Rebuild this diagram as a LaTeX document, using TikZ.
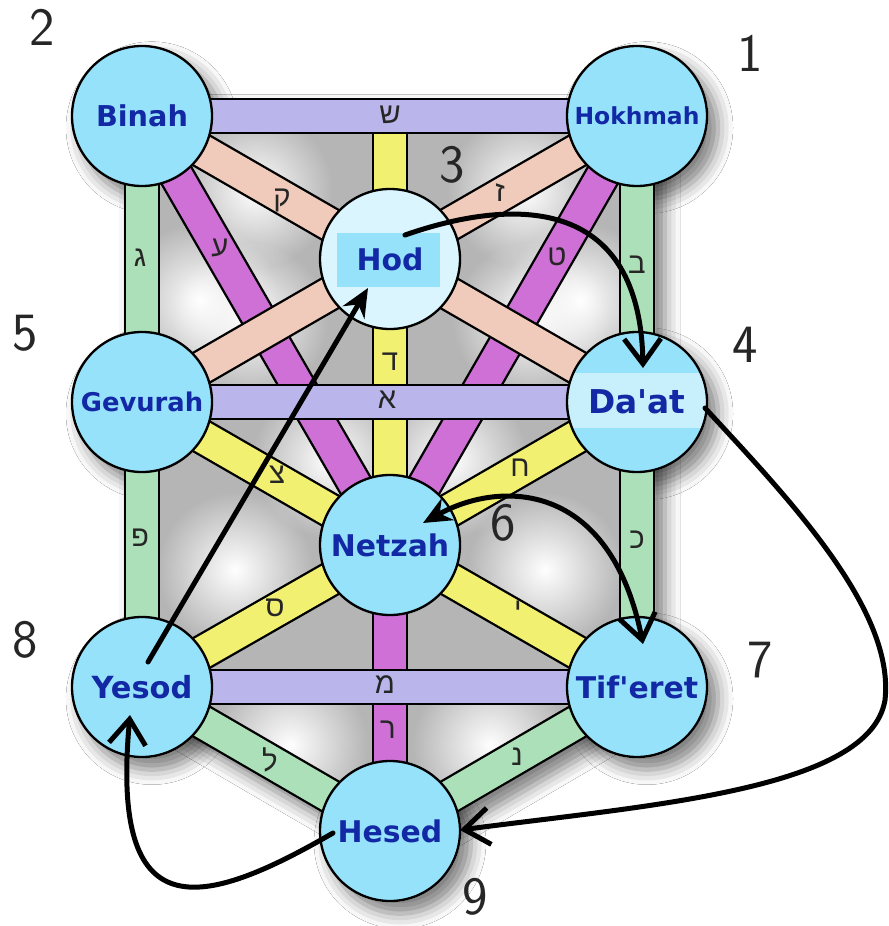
\documentclass[tikz,border=0pt]{standalone}
\usepackage{fontspec}
\usetikzlibrary{arrows.meta,shadows.blur,fadings}
\newfontfamily\lblfont{DejaVu Sans}
\newfontfamily\hebfont[Script=Hebrew]{Liberation Sans}
\definecolor{lav}{RGB}{186,182,236}
\definecolor{pinkb}{RGB}{240,202,186}
\definecolor{purp}{RGB}{206,112,214}
\definecolor{yel}{RGB}{242,240,112}
\definecolor{grn}{RGB}{172,224,184}
\definecolor{sef}{RGB}{150,226,250}
\definecolor{sefpale}{RGB}{218,245,253}
\definecolor{dapale}{RGB}{200,240,252}
\definecolor{txtb}{RGB}{18,40,165}
\tikzfading[name=blobfade, inner color=transparent!0, outer color=transparent!100]
\tikzset{
 band/.style={draw=black, line width=0.07cm, double=#1, double distance=0.95cm},
 sefira/.style={circle, draw=black, line width=0.07cm, fill=sef, minimum size=4.2cm, inner sep=0pt, text=txtb},
 heb/.style={font=\hebfont\fontsize{25}{26}\selectfont, inner sep=0pt, text=black!85},
 num/.style={font=\sffamily\fontsize{46}{48}\selectfont, inner sep=0pt, text=black!85},
 arr/.style={draw=black, line width=0.15cm, line cap=round},
 shad/.style={blur shadow={shadow xshift=0.3cm, shadow yshift=-0.35cm, shadow blur radius=0.45cm, shadow opacity=50}},
}
\begin{document}
\begin{tikzpicture}[x=0.03cm,y=-0.03cm]
\useasboundingbox (0,0) rectangle (888,926);
\fill[white] (0,0) rectangle (888,926);
% centres
\coordinate (cBi) at (142,116);
\coordinate (cHo) at (637,116);
\coordinate (cTop) at (390,116);
\coordinate (cHd) at (390,259);
\coordinate (cGe) at (142,402);
\coordinate (cDa) at (637,402);
\coordinate (cNe) at (390,545);
\coordinate (cYe) at (142,687);
\coordinate (cTi) at (637,687);
\coordinate (cHe) at (390,831);
% shadows
\fill[white, shad] (124,98) -- (655,98) -- (655,697) -- (390,852) -- (124,697) -- cycle;
\foreach \c in {cBi,cHo,cHd,cGe,cDa,cNe,cYe,cTi,cHe}
  \fill[white, shad] (\c) circle (71);
% grey ground
\begin{scope}
\clip (cBi) -- (cHo) -- (cTi) -- (cHe) -- (cYe) -- cycle;
\fill[gray!58] (0,0) rectangle (888,926);
\foreach \p in {(250,320),(530,320),(235,570),(545,570),(290,745),(490,745),(255,190),(525,190),(330,460),(450,460),(200,300),(580,300)}
  \fill[white, path fading=blobfade] \p circle (78);
\end{scope}
% bands
\draw[band=purp] (cBi) -- (cNe);
\draw[band=purp] (cHo) -- (cNe);
\draw[band=pinkb] (cBi) -- (cDa);
\draw[band=pinkb] (cHo) -- (cGe);
\draw[band=yel] (cTop) -- (cNe);
\draw[band=purp] (cNe) -- (cHe);
\draw[band=grn] (cBi) -- (cYe);
\draw[band=grn] (cHo) -- (cTi);
\draw[band=lav] (cBi) -- (cHo);
\draw[band=lav] (cGe) -- (cDa);
\draw[band=lav] (cYe) -- (cTi);
\draw[band=yel] (cGe) -- (cNe);
\draw[band=yel] (cDa) -- (cNe);
\draw[band=yel] (cYe) -- (cNe);
\draw[band=yel] (cTi) -- (cNe);
\draw[band=grn] (cYe) -- (cHe);
\draw[band=grn] (cTi) -- (cHe);
% sefirot
\node[sefira, font=\lblfont\bfseries\fontsize{24.5}{26}\selectfont] (bin) at (cBi) {Binah};
\node[sefira, font=\lblfont\bfseries\fontsize{20}{22}\selectfont] (hok) at (cHo) {Hokhmah};
\node[sefira, fill=sefpale, font=\lblfont\bfseries\fontsize{25.5}{27}\selectfont,
  path picture={\fill[sef] ([shift={(-1.59cm,0.78cm)}]path picture bounding box.center) rectangle ([shift={(1.5cm,-0.84cm)}]path picture bounding box.center);}] (hod) at (cHd) {Hod};
\node[sefira, font=\lblfont\bfseries\fontsize{22}{24}\selectfont] (gev) at (cGe) {Gevurah};
\node[sefira, font=\lblfont\bfseries\fontsize{28}{30}\selectfont,
  path picture={\fill[dapale] ([yshift=0.86cm]path picture bounding box.west) rectangle ([yshift=-0.78cm]path picture bounding box.east);}] (dat) at (cDa) {Da\textquotesingle at};
\node[sefira, font=\lblfont\bfseries\fontsize{25.5}{27}\selectfont] (net) at (cNe) {Netzah};
\node[sefira, font=\lblfont\bfseries\fontsize{26}{28}\selectfont] (yes) at (cYe) {Yesod};
\node[sefira, font=\lblfont\bfseries\fontsize{25.5}{27}\selectfont] (tif) at (cTi) {Tif\textquotesingle eret};
\node[sefira, font=\lblfont\bfseries\fontsize{25.5}{27}\selectfont] (hes) at (cHe) {Hesed};
% letters
\node[heb] (lShin) at (390,115) {ש};
\node[heb] (lQof) at (282,200) {ק};
\node[heb] (lZayin) at (500,193) {ז};
\node[heb] (lGimel) at (140,258) {ג};
\node[heb] (lAyin) at (220,248) {ע};
\node[heb] (lTet) at (557,257) {ט};
\node[heb] (lBet) at (637,265) {ב};
\node[heb] (lDalet) at (390,362) {ד};
\node[heb] (lAlef) at (387,400) {א};
\node[heb] (lTsadi) at (277,475) {צ};
\node[heb] (lHet) at (520,468) {ח};
\node[heb] (lPe) at (140,538) {פ};
\node[heb] (lKaf) at (637,540) {כ};
\node[heb] (lSamekh) at (275,608) {ס};
\node[heb] (lYod) at (518,610) {י};
\node[heb] (lMem) at (385,685) {מ};
\node[heb] (lResh) at (388,730) {ר};
\node[heb] (lLamed) at (270,760) {ל};
\node[heb] (lNun) at (517,757) {נ};
% numbers
\node[num] (n1) at (750,53) {1};
\node[num] (n2) at (42,27) {2};
\node[num] (n3) at (452,165) {3};
\node[num] (n4) at (745,345) {4};
\node[num] (n5) at (25,333) {5};
\node[num] (n6) at (503,523) {6};
\node[num] (n7) at (760,660) {7};
\node[num] (n8) at (25,640) {8};
\node[num] (n9) at (475,897) {9};
% arrows
\draw[arr, -{Straight Barb[length=0.75cm,width=1.1cm]}] ([shift={(15,-24)}]hod.center) .. controls (520,195) and (640,200) .. ([shift={(6,-34)}]dat.center);
\draw[arr, -{Stealth[length=0.85cm,width=0.75cm]}] ([shift={(6,-25)}]yes.center) -- ([shift={(-22,29)}]hod.center);
\draw[arr, {Stealth[length=0.85cm,width=0.75cm]}-{Straight Barb[length=0.75cm,width=1.1cm]}] ([shift={(33,-22)}]net.center) .. controls (500,480) and (610,480) .. ([shift={(6,-43)}]tif.center);
\coordinate (loopR) at (885,700);
\draw[arr, -{Straight Barb[length=0.75cm,width=1.1cm]}] ([shift={(68,6)}]dat.center) .. controls (790,500) and (895,610) .. (loopR) .. controls (870,790) and (650,805) .. ([shift={(70,-1)}]hes.center);
\draw[arr, -{Straight Barb[length=0.75cm,width=1.1cm]}] ([shift={(-57,2)}]hes.center) .. controls (200,910) and (110,930) .. ([shift={(-12,28)}]yes.center);
\end{tikzpicture}
\end{document}
